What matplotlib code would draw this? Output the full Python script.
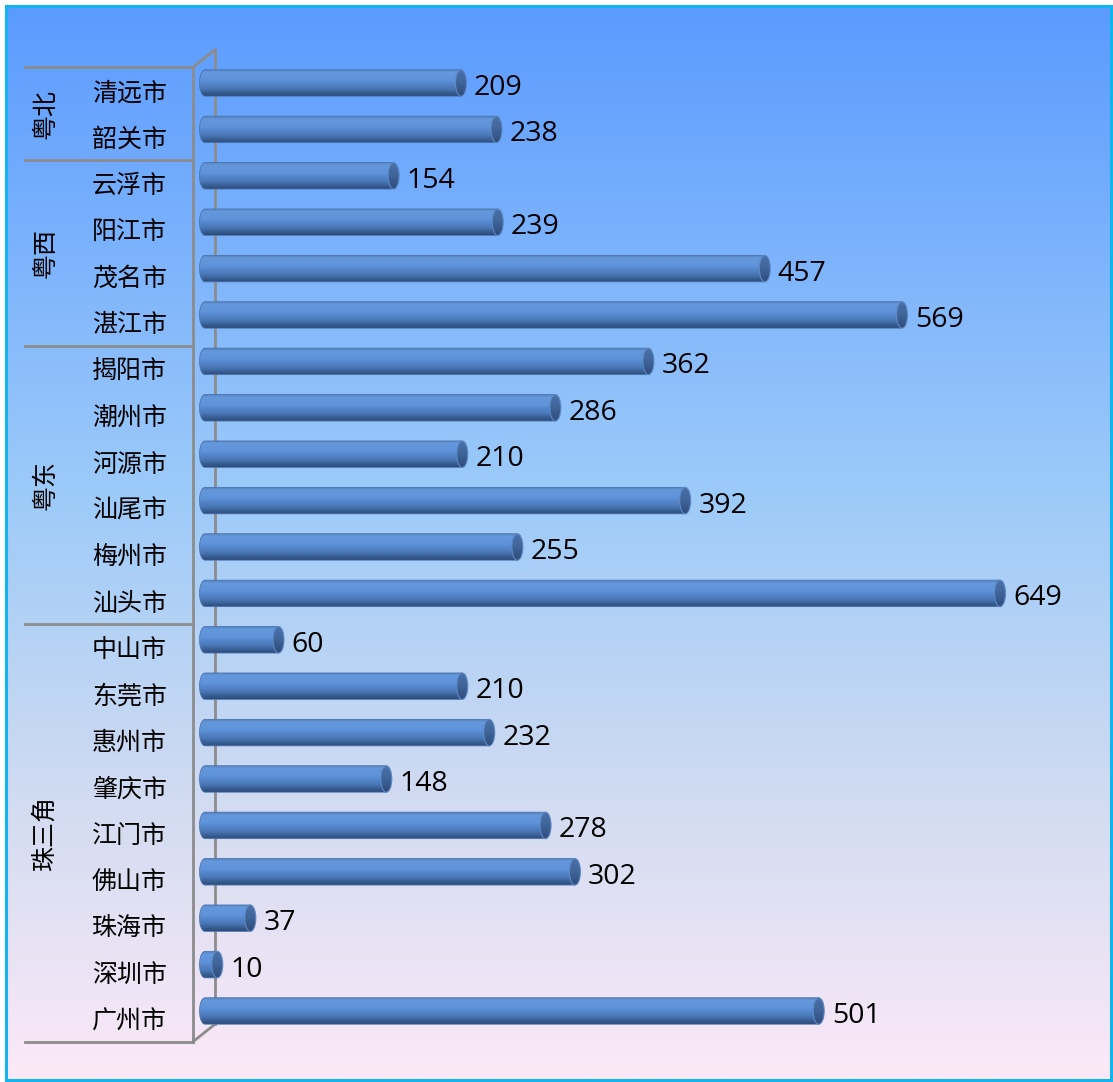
import numpy as np
import matplotlib
matplotlib.use("Agg")
import matplotlib.pyplot as plt
from matplotlib.patches import PathPatch, Ellipse, Rectangle
from matplotlib.path import Path
from matplotlib.colors import LinearSegmentedColormap
import matplotlib.transforms as mtrans

# ---------------- data ----------------
cities = ["清远市", "韶关市", "云浮市", "阳江市", "茂名市", "湛江市",
          "揭阳市", "潮州市", "河源市", "汕尾市", "梅州市", "汕头市",
          "中山市", "东莞市", "惠州市", "肇庆市", "江门市", "佛山市",
          "珠海市", "深圳市", "广州市"]
values = [209, 238, 154, 239, 457, 569,
          362, 286, 210, 392, 255, 649,
          60, 210, 232, 148, 278, 302,
          37, 10, 501]
groups = ["粤北", "粤西", "粤东", "珠三角"]
group_sizes = [2, 4, 6, 9]

CJK = ["Noto Sans CJK SC", "DejaVu Sans"]

W, H = 1113, 1082
DPI = 100
fig = plt.figure(figsize=(W / DPI, H / DPI), dpi=DPI)
fig.patch.set_facecolor("white")

# background overlay axes in pixel coordinates
bg = fig.add_axes([0, 0, 1, 1], zorder=0)
bg.axis("off")
bg_cmap = LinearSegmentedColormap.from_list(
    "bg", [(0.0, "#5B9BFF"), (0.45, "#9CCAF9"), (0.75, "#D3DCF1"), (1.0, "#FCE9F8")])
grad = np.linspace(0, 1, 512).reshape(-1, 1)
bg.imshow(grad, cmap=bg_cmap, extent=[6, 1111, 1080, 6], aspect="auto",
          origin="upper", zorder=0)
bg.add_patch(Rectangle((6, 6), 1105, 1074, fill=False, edgecolor="#12B4EE",
                       lw=2.2, zorder=5))
bg.set_xlim(0, W)
bg.set_ylim(H, 0)

# data axes
n = len(cities)
x0_px, px_per_unit = 205, 1.225
ax_left_px, ax_right_px = 190, 1100
row0_px, row_step = 83, 46.4
top_px = row0_px - row_step / 2
bot_px = row0_px + row_step * (n - 1) + row_step / 2
ax = fig.add_axes([ax_left_px / W, 1 - bot_px / H,
                   (ax_right_px - ax_left_px) / W, (bot_px - top_px) / H], zorder=1)
ax.patch.set_alpha(0)
xmin = -(x0_px - ax_left_px) / px_per_unit
xmax = (ax_right_px - x0_px) / px_per_unit
for s in ax.spines.values():
    s.set_visible(False)
ax.set_xticks([])
ax.set_yticks(range(n))
ax.set_yticklabels(cities, fontsize=18, family=CJK)
ax.tick_params(axis="y", length=0, pad=(ax_left_px - 167) / DPI * 72)
for lab in ax.get_yticklabels():
    lab.set_transform(lab.get_transform() +
                      mtrans.ScaledTranslation(0, -7.5 / DPI, fig.dpi_scale_trans))

bar_h = 0.57
cap_a = 5.5 / px_per_unit  # ellipse semi-axis in data units
bar_cmap = LinearSegmentedColormap.from_list(
    "bar", [(0.0, "#5380BC"), (0.12, "#6598DC"), (0.4, "#5E92DA"),
            (0.7, "#4B7ABA"), (1.0, "#2C4A78")])
cap_cmap = LinearSegmentedColormap.from_list(
    "cap", [(0.0, "#4A72AA"), (0.5, "#3F6499"), (1.0, "#2E4C7A")])
bgrad = np.linspace(0, 1, 128).reshape(-1, 1)

bars = ax.barh(range(n), values, height=bar_h, color="none", edgecolor="none")
for i, (b, v) in enumerate(zip(bars, values)):
    yc = b.get_y() + b.get_height() / 2
    yt, yb = yc - bar_h / 2, yc + bar_h / 2
    t = np.linspace(np.pi / 2, 3 * np.pi / 2, 40)
    arc_x = cap_a * np.cos(t)
    arc_y = yc - (bar_h / 2) * np.sin(t)
    verts = [(v, yt), (0, yt)] + list(zip(arc_x, arc_y)) + [(0, yb), (v, yb), (v, yt)]
    body = PathPatch(Path(verts), transform=ax.transData, facecolor="none",
                     edgecolor="#4A74AE", lw=0.6, zorder=2.5)
    ax.add_patch(body)
    im = ax.imshow(bgrad, cmap=bar_cmap, extent=[-cap_a, v, yb, yt], aspect="auto",
                   origin="upper", zorder=2)
    im.set_clip_path(body)
    cap = Ellipse((v, yc), 2 * cap_a, bar_h, transform=ax.transData,
                  facecolor="none", edgecolor="#5E88C4", lw=0.8, zorder=3.5)
    ax.add_patch(cap)
    im2 = ax.imshow(bgrad, cmap=cap_cmap, extent=[v - cap_a, v + cap_a, yb, yt],
                    aspect="auto", origin="upper", zorder=3)
    im2.set_clip_path(cap)
    ax.annotate(str(v), (v, yc), xytext=(13 / DPI * 72, -5 / DPI * 72),
                textcoords="offset points", ha="left", va="center", fontsize=20.5,
                family=["Open Sans", "DejaVu Sans"], color="black", zorder=4)

ax.set_xlim(xmin, xmax)
ax.set_ylim(n - 0.5, -0.5)

# frame lines (front plane and back wall) in pixel coords
fig.canvas.draw()
def px(xd, yd):
    X, Y = ax.transData.transform((xd, yd))
    return X, H - Y

front_dx, front_dy = -12, 7.5
back_dx, back_dy = 10, -10
lc = "#8C8C8C"
lw = 2.0
xt, ytop = px(0, -0.5)
_, ybot = px(0, n - 0.5)
fx = xt + front_dx
bx = xt + back_dx
bg.plot([fx, fx], [ytop + front_dy, ybot + front_dy], color=lc, lw=lw, zorder=3)
bg.plot([bx, bx], [ytop + back_dy, ybot + back_dy], color=lc, lw=lw, zorder=3)
bg.plot([fx, bx], [ytop + front_dy, ytop + back_dy], color=lc, lw=lw, zorder=3)
bg.plot([fx, bx], [ybot + front_dy, ybot + back_dy], color=lc, lw=lw, zorder=3)

bounds = np.concatenate([[0], np.cumsum(group_sizes)])
for k in bounds:
    _, yy = px(0, k - 0.5)
    bg.plot([25, fx], [yy + front_dy, yy + front_dy], color=lc, lw=lw, zorder=3)
for gname, a, b in zip(groups, bounds[:-1], bounds[1:]):
    _, yy = px(0, (a + b - 1) / 2)
    bg.text(45, yy + front_dy, gname, rotation=90, ha="center", va="center",
            fontsize=18, family=CJK, color="black", zorder=4)

fig.savefig("out.png", dpi=DPI, facecolor="white")
